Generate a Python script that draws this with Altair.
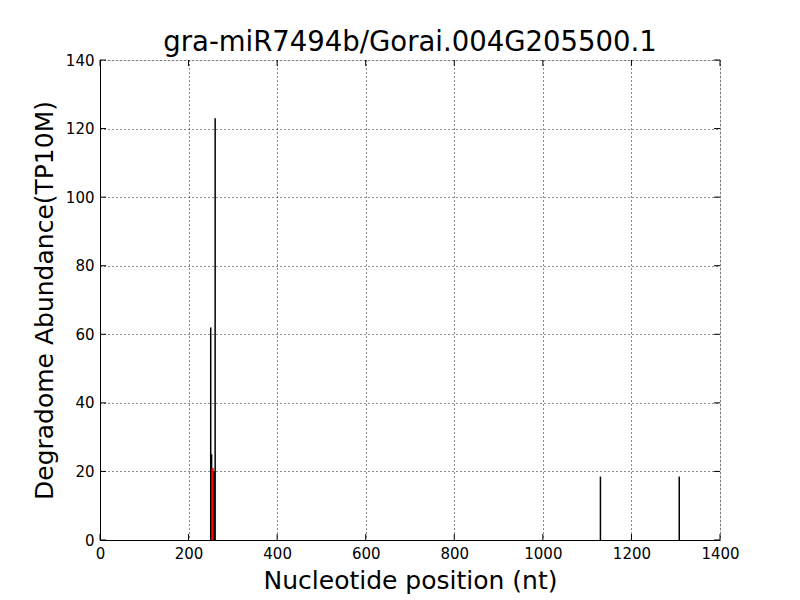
import altair as alt
import pandas as pd

positions = [250, 252, 256, 258, 260, 1130, 1308]
abundance = [62, 25, 20, 20, 123, 18.5, 18.5]
red_pos = [254]
red_abund = [21]

title = "gra-miR7494b/Gorai.004G205500.1"
x_ticks = [0, 200, 400, 600, 800, 1000, 1200, 1400]
y_ticks = [0, 20, 40, 60, 80, 100, 120, 140]

black = pd.DataFrame({"pos": positions, "val": abundance})
red = pd.DataFrame({"pos": red_pos, "val": red_abund})
xt = pd.DataFrame({"t": x_ticks})
yt = pd.DataFrame({"t": y_ticks})

xs = alt.Scale(domain=[0, 1400], nice=False, zero=False)
ys = alt.Scale(domain=[0, 140], nice=False)

common = dict(grid=True, gridDash=[1, 3], gridColor="black", gridOpacity=0.9,
              labelFontSize=15, titleFontSize=25, titleFontWeight="normal", labelColor="black",
              titleColor="black", domainColor="black", tickSize=0, format="d",
              labelFlush=False, labelOverlap=False,
              labelFont="DejaVu Sans", titleFont="DejaVu Sans")
xax = alt.Axis(values=x_ticks, labelPadding=6, titlePadding=7, **common)
yax = alt.Axis(values=y_ticks, labelPadding=6, titlePadding=8, **common)

base_black = alt.Chart(black).mark_rule(color="black", strokeWidth=1.5).encode(
    x=alt.X("pos:Q", scale=xs, axis=xax, title="Nucleotide position (nt)"),
    y=alt.Y("val:Q", scale=ys, axis=yax, title="Degradome Abundance(TP10M)"),
    y2=alt.datum(0),
)
base_red = alt.Chart(red).mark_rule(color="red", strokeWidth=2.5).encode(
    x=alt.X("pos:Q", scale=xs),
    y=alt.Y("val:Q", scale=ys),
    y2=alt.datum(0),
)

# inside ticks (classic matplotlib style) on all four sides
xt_bottom = alt.Chart(xt).mark_rule(color="black", strokeWidth=1).encode(
    x=alt.X("t:Q", scale=xs), y=alt.value(480), y2=alt.value(474))
xt_top = alt.Chart(xt).mark_rule(color="black", strokeWidth=1).encode(
    x=alt.X("t:Q", scale=xs), y=alt.value(0), y2=alt.value(6))
yt_left = alt.Chart(yt).mark_rule(color="black", strokeWidth=1).encode(
    y=alt.Y("t:Q", scale=ys), x=alt.value(0), x2=alt.value(6))
yt_right = alt.Chart(yt).mark_rule(color="black", strokeWidth=1).encode(
    y=alt.Y("t:Q", scale=ys), x=alt.value(620), x2=alt.value(614))

chart = alt.layer(base_black, base_red, xt_bottom, xt_top, yt_left, yt_right).properties(
    width=620, height=480,
    title=alt.TitleParams(title, fontSize=27.5, fontWeight="normal", font="DejaVu Sans",
                          color="black", offset=-3),
    autosize=alt.AutoSizeParams(type="none"),
    padding={"left": 92, "top": 52, "right": 72, "bottom": 60},
).configure_view(stroke="black", strokeWidth=1).configure(background="white")

chart.save("out.html", embed_options={"renderer": "svg", "actions": False})
